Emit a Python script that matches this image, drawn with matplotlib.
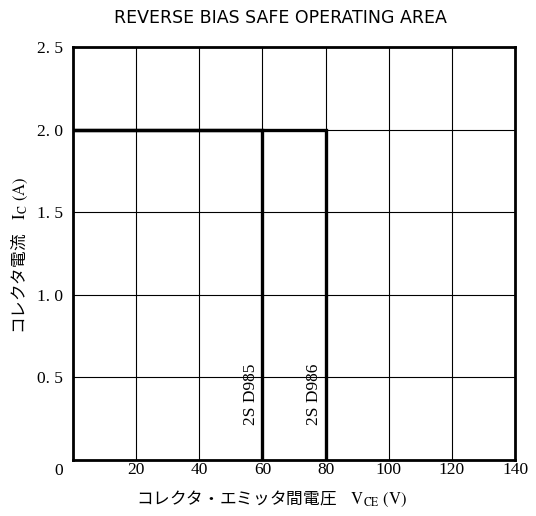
import matplotlib
matplotlib.use("Agg")
import matplotlib.pyplot as plt

# safe operating area boundaries (V_CE [V], I_C [A])
models = ["2SD985", "2SD986"]
vce_max = [60, 80]
ic_max = [2.0, 2.0]

x_ticks = [0, 20, 40, 60, 80, 100, 120, 140]
y_ticks = [0.5, 1.0, 1.5, 2.0, 2.5]

plt.rcParams["font.family"] = ["Liberation Serif", "Noto Sans CJK JP"]
plt.rcParams["mathtext.fontset"] = "stix"

fig = plt.figure(figsize=(5.36, 5.16), dpi=100)
ax = fig.add_axes([0.136, 0.1085, 0.825, 0.8005])

for name, v, i in zip(models, vce_max, ic_max):
    ax.plot([0, v, v], [i, i, 0], color="black", lw=2.4, solid_joinstyle="miter")
    ax.text(v - 3.6, 0.4, name.replace("S", "S "), rotation=90, ha="center", va="center",
            fontsize=12.5)

ax.set_xlim(0, 140)
ax.set_ylim(0, 2.5)
ax.set_xticks(x_ticks)
ax.set_yticks(y_ticks)
ax.set_xticklabels([""] + [str(t) for t in x_ticks[1:]], fontsize=12.5)
ax.set_yticklabels(["{:.1f}".format(t).replace(".", ". ") for t in y_ticks], fontsize=12.5)
ax.text(-4.5, -0.008, str(x_ticks[0]), transform=ax.get_xaxis_transform(),
        ha="center", va="top", fontsize=12.5)
ax.tick_params(length=0, pad=1.5)
ax.tick_params(axis="y", pad=7)
ax.grid(True, color="black", lw=0.8)
for s in ax.spines.values():
    s.set_linewidth(2.0)

ax.set_xlabel(r"コレクタ・エミッタ間電圧    $\mathrm{V_{CE}\ (V)}$", fontsize=12,
              family=["Noto Sans CJK JP", "Liberation Serif"], va="center")
ax.xaxis.set_label_coords(0.45, -0.093)
ax.set_ylabel(r"コレクタ電流    $\mathrm{I_{C}\ (A)}$", fontsize=12,
              family=["Noto Sans CJK JP", "Liberation Serif"], va="center")
ax.yaxis.set_label_coords(-0.12, 0.495)
fig.text(0.523, 0.965, "REVERSE BIAS SAFE OPERATING AREA", ha="center", va="center",
         fontsize=12.5, family="DejaVu Sans")

fig.savefig("out.png", dpi=100)
